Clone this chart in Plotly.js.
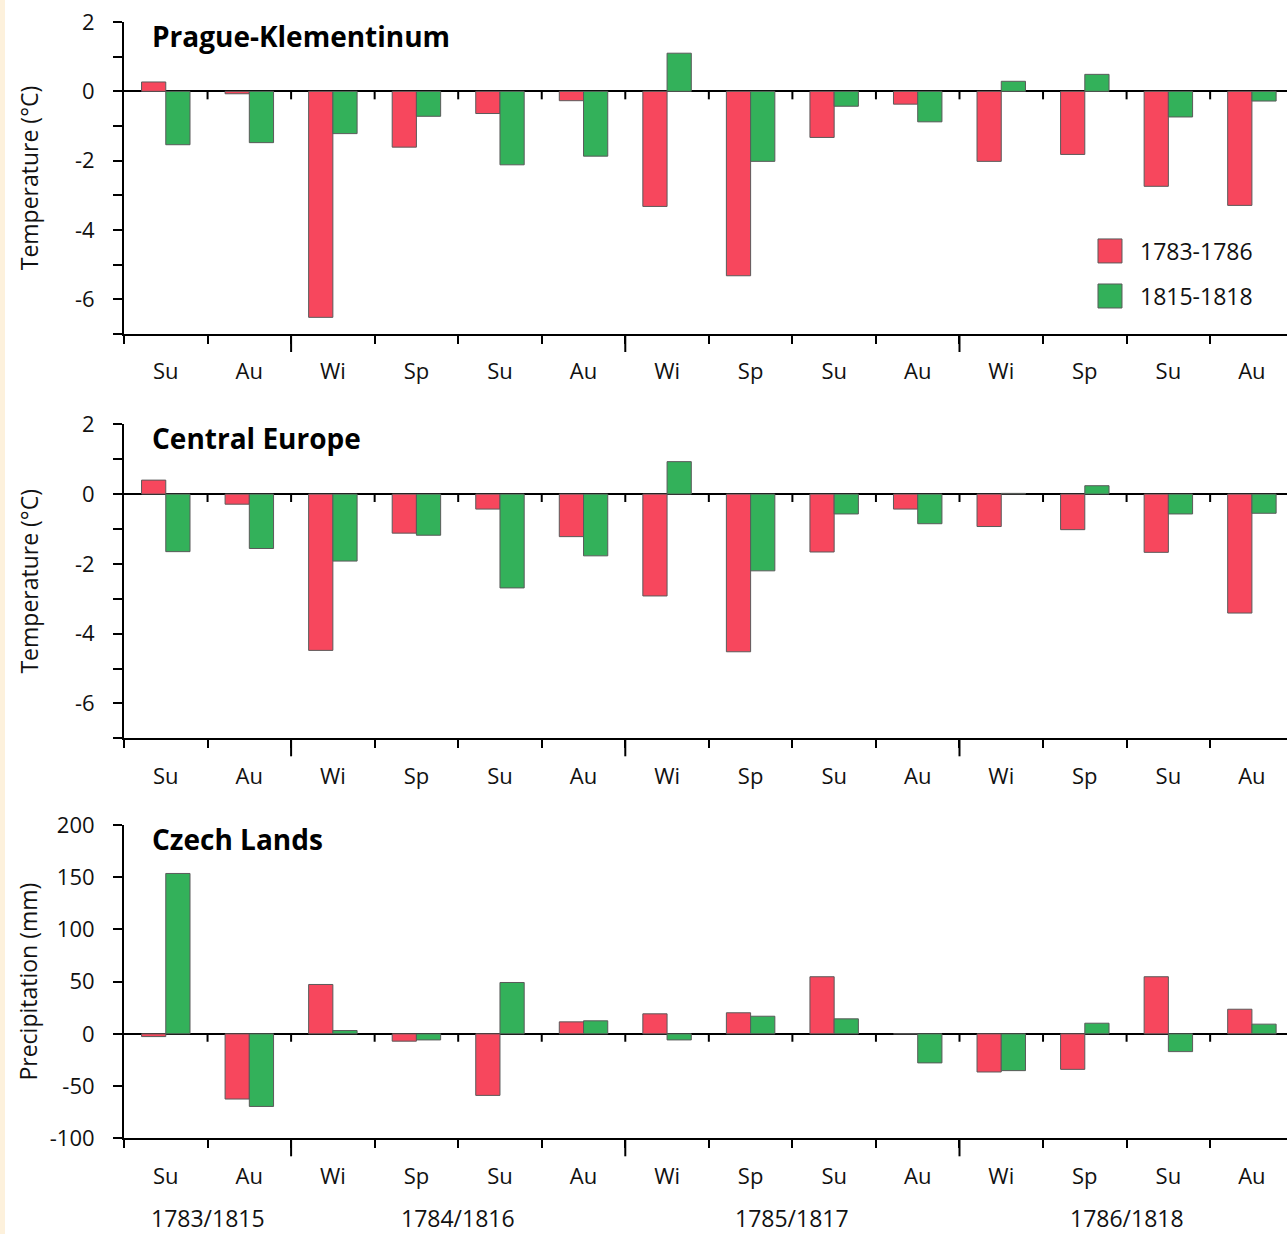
<!DOCTYPE html>
<html>
<head>
<meta charset="utf-8">
<script src="https://cdn.plot.ly/plotly-3.0.1.min.js"></script>
<style>
  html, body { margin: 0; padding: 0; background: #ffffff; }
  #chart { width: 1287px; height: 1234px; }
</style>
</head>
<body>
<div id="chart"></div>
<script>
// ---------------- DATA ----------------
const seasons = ['Su','Au','Wi','Sp','Su','Au','Wi','Sp','Su','Au','Wi','Sp','Su','Au'];
const yearLabels = ['1783/1815','1784/1816','1785/1817','1786/1818'];
const seriesNames = ['1783-1786','1815-1818'];
const panelTitles = ['Prague-Klementinum','Central Europe','Czech Lands'];
const yTitles = ['Temperature (°C)','Temperature (°C)','Precipitation (mm)'];

// Prague-Klementinum temperature anomalies (°C)
const pragueA = [0.27, -0.07, -6.52, -1.61, -0.64, -0.27, -3.32, -5.32, -1.33, -0.37, -2.02, -1.82, -2.74, -3.29];
const pragueB = [-1.54, -1.48, -1.22, -0.72, -2.12, -1.87, 1.10, -2.02, -0.43, -0.88, 0.29, 0.49, -0.74, -0.28];
// Central Europe temperature anomalies (°C)
const centralA = [0.40, -0.29, -4.48, -1.12, -0.43, -1.22, -2.92, -4.52, -1.66, -0.43, -0.93, -1.02, -1.67, -3.41];
const centralB = [-1.65, -1.56, -1.92, -1.18, -2.69, -1.77, 0.93, -2.20, -0.57, -0.85, 0.02, 0.24, -0.57, -0.55];
// Czech Lands precipitation anomalies (mm)
const czechA = [-2.6, -62.4, 47.3, -7.0, -58.9, 11.5, 19.2, 20.2, 54.7, 0, -36.5, -34.0, 54.7, 23.6];
const czechB = [153.6, -69.5, 3.2, -5.8, 49.2, 12.5, -5.8, 16.9, 14.4, -27.8, -35.2, 10.2, -17.0, 9.3];

// ---------------- STYLE ----------------
const RED = '#F7475D';
const GREEN = '#33B15A';
const OUTLINE = '#5a5a5a';
const FONT = 'Open Sans, Noto Sans, DejaVu Sans, sans-serif';

// derived positions (category index scale)
const idx = seasons.map((_, i) => i);
const innerBounds = seasons.slice(0, -1).map((_, i) => i + 0.5);
const allBounds = [-0.5].concat(innerBounds);
const yearBounds = innerBounds.filter((b, i) => seasons[i + 1] === 'Wi');
const groupStarts = [0].concat(yearBounds.map(b => b + 0.5));
const groupEnds = yearBounds.map(b => b - 0.5).concat([seasons.length - 1]);
const groupCenters = groupStarts.map((s, i) => (s + groupEnds[i]) / 2);

const panels = [
  {a: pragueA, b: pragueB, range: [-7, 2], dtick: 2, minor: 1, domain: [0.72934, 0.98217], standoff: 30},
  {a: centralA, b: centralB, range: [-7, 2], dtick: 2, minor: 1, domain: [0.40170, 0.65616], standoff: 30},
  {a: czechA, b: czechB, range: [-100, 200], dtick: 50, minor: null, domain: [0.07755, 0.33144], standoff: 6}
];

function tickList(range, step) {
  const out = [];
  for (let v = Math.ceil(range[0] / step) * step; v <= range[1] + 1e-9; v += step) out.push(v);
  return out;
}

const xRange = [-0.5, 13.42];
const traces = [];
const layout = {
  width: 1287, height: 1234,
  margin: {l: 124, r: 0, t: 0, b: 0},
  paper_bgcolor: '#ffffff', plot_bgcolor: '#ffffff',
  font: {family: FONT, size: 22, color: '#111'},
  barmode: 'group', bargap: 0.42, bargroupgap: 0,
  showlegend: true,
  shapes: [
    // faint cream strip along the left edge of the figure
    {type: 'rect', xref: 'paper', yref: 'paper', x0: -124 / 1163, x1: -119 / 1163, y0: 0, y1: 1,
     fillcolor: '#FDF1DC', line: {width: 0}, layer: 'below'}
  ],
  annotations: [],
  legend: {x: 0.822, xanchor: 'left', y: 0.7966, yanchor: 'middle', bgcolor: 'rgba(0,0,0,0)',
           font: {family: FONT, size: 23, color: '#111'}, itemwidth: 50, borderwidth: 0},
  legend2: {x: 0.822, xanchor: 'left', y: 0.7601, yanchor: 'middle', bgcolor: 'rgba(0,0,0,0)',
           font: {family: FONT, size: 23, color: '#111'}, itemwidth: 50, borderwidth: 0}
};

panels.forEach((p, k) => {
  const n = k + 1;
  const xs = n === 1 ? 'x' : 'x' + n;
  const ys = n === 1 ? 'y' : 'y' + n;
  traces.push({
    type: 'bar', x: idx, y: p.a, xaxis: xs, yaxis: ys, name: seriesNames[0],
    marker: {color: RED, line: {color: OUTLINE, width: 1}},
    showlegend: k === 0, legend: 'legend', hoverinfo: 'y'
  });
  traces.push({
    type: 'bar', x: idx, y: p.b, xaxis: xs, yaxis: ys, name: seriesNames[1],
    marker: {color: GREEN, line: {color: OUTLINE, width: 1}},
    showlegend: k === 0, legend: 'legend2', hoverinfo: 'y'
  });

  layout['xaxis' + (n === 1 ? '' : n)] = {
    domain: [0, 1], range: xRange, anchor: ys,
    showline: true, linecolor: '#000', linewidth: 2,
    showgrid: false, zeroline: false,
    tickmode: 'array', tickvals: idx, ticktext: seasons,
    ticks: '', ticklabelstandoff: 17,
    tickfont: {family: FONT, size: 22, color: '#111'},
    minor: {tickmode: 'array', tickvals: allBounds, ticks: 'outside', ticklen: 8, tickwidth: 2, tickcolor: '#000', showgrid: false}
  };
  const yt = tickList(p.range, p.dtick);
  const yax = {
    domain: p.domain, range: p.range, anchor: xs,
    showline: true, linecolor: '#000', linewidth: 2,
    showgrid: false,
    zeroline: true, zerolinecolor: '#000', zerolinewidth: 2,
    tickmode: 'array', tickvals: yt, ticktext: yt.map(v => String(v)),
    ticks: 'outside', ticklen: 9, tickwidth: 2, tickcolor: '#000',
    ticklabelstandoff: 14,
    tickfont: {family: FONT, size: 22, color: '#111'},
    title: {text: yTitles[k], font: {family: FONT, size: 23, color: '#111'}, standoff: p.standoff}
  };
  if (p.minor) {
    yax.minor = {tickmode: 'linear', tick0: 0, dtick: p.minor, ticks: 'outside', ticklen: 9, tickwidth: 2, tickcolor: '#000', showgrid: false};
  }
  layout['yaxis' + (n === 1 ? '' : n)] = yax;

  // small ticks hanging below the zero line at every category boundary
  innerBounds.forEach(b => {
    layout.shapes.push({
      type: 'line', xref: xs, yref: ys, ysizemode: 'pixel', yanchor: 0,
      x0: b, x1: b, y0: 0, y1: -8,
      line: {color: '#000', width: 2}
    });
  });
  // longer ticks on the bottom axis marking the start of each year
  yearBounds.forEach(b => {
    layout.shapes.push({
      type: 'line', xref: xs, yref: ys + ' domain', ysizemode: 'pixel', yanchor: 0,
      x0: b, x1: b, y0: 0, y1: -18,
      line: {color: '#000', width: 2}
    });
  });

  // panel title
  layout.annotations.push({
    xref: xs + ' domain', yref: ys + ' domain', x: 0.0225, y: 0.955,
    xanchor: 'left', yanchor: 'middle', showarrow: false,
    text: panelTitles[k],
    font: {family: FONT, size: 28, color: '#000', weight: 700}
  });
});

// year labels under the bottom panel
yearLabels.forEach((t, i) => {
  layout.annotations.push({
    xref: 'x3', yref: 'paper', x: groupCenters[i], y: 1 - 1218 / 1234,
    xanchor: 'center', yanchor: 'middle', showarrow: false, text: t,
    font: {family: FONT, size: 23, color: '#111'}
  });
});

Plotly.newPlot('chart', traces, layout, {displayModeBar: false, staticPlot: true}).then(gd => {
  // enlarge legend swatches to match the reference's larger squares
  gd.querySelectorAll('g.legendpoints path').forEach(el => {
    el.setAttribute('d', 'M42,12H18V-12H42Z');
    el.removeAttribute('transform');
    el.style.strokeWidth = '1px';
  });
});
</script>
</body>
</html>
